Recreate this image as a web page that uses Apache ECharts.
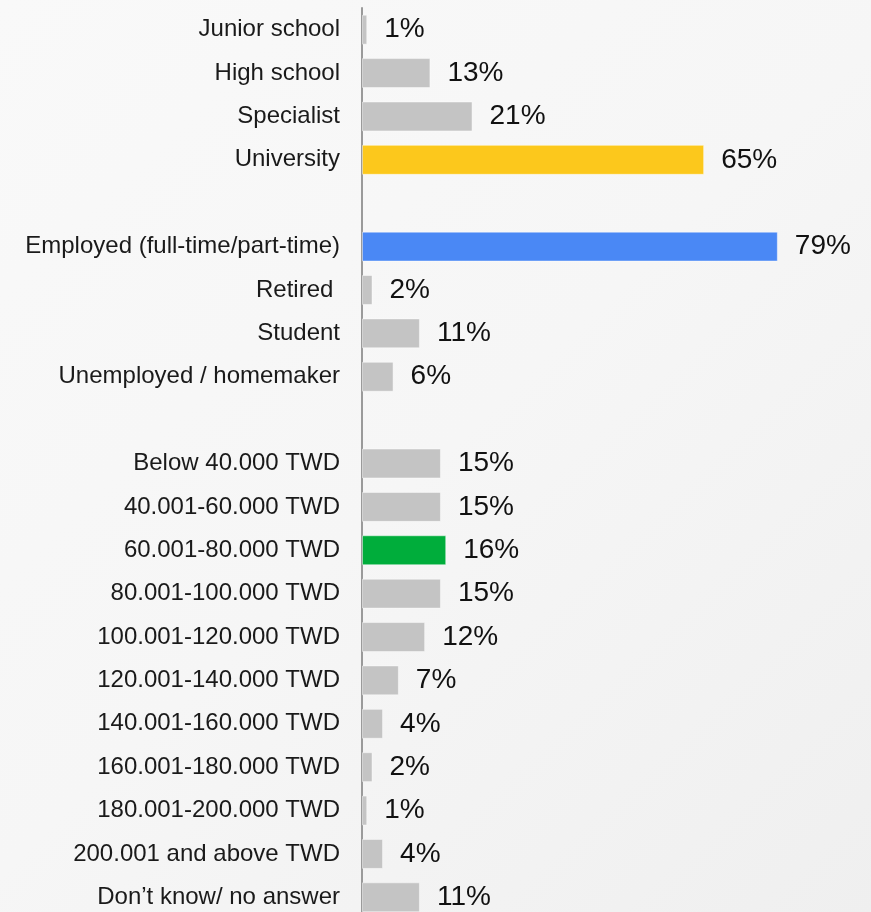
<!DOCTYPE html>
<html>
<head>
<meta charset="utf-8">
<script src="https://cdn.jsdelivr.net/npm/echarts@6/dist/echarts.min.js"></script>
<style>
    html, body { margin: 0; padding: 0; overflow: hidden; }
    #chart { width: 871px; height: 920px; }
</style>
</head>
<body>
<div id="chart"></div>
<script>
// rows from top to bottom, blank rows separate the groups
var categories = [
    'Junior school', 'High school', 'Specialist', 'University',
    ' ',
    'Employed (full-time/part-time)', 'Retired ', 'Student', 'Unemployed / homemaker',
    '  ',
    'Below 40.000 TWD', '40.001-60.000 TWD', '60.001-80.000 TWD', '80.001-100.000 TWD',
    '100.001-120.000 TWD', '120.001-140.000 TWD', '140.001-160.000 TWD', '160.001-180.000 TWD',
    '180.001-200.000 TWD', '200.001 and above TWD', 'Don\u2019t know/ no answer'
];
var values = [
    1, 13, 21, 65,
    null,
    79, 2, 11, 6,
    null,
    15, 15, 16, 15, 12, 7, 4, 2, 1, 4, 11
];

var grayColor = '#c4c4c4';
var highlight = {
    'University': '#fcc81c',
    'Employed (full-time/part-time)': '#4a88f5',
    '60.001-80.000 TWD': '#00ad3b'
};

initChart();

function initChart() {
    var dom = document.getElementById('chart');
    var myChart = echarts.init(dom);
    var seriesData = values.map(function(v, i) {
        if (v === null) return '-';
        return {
            value: v,
            itemStyle: {
                color: highlight[categories[i]] || grayColor
            }
        };
    });
    var option = {
        animation: false,
        backgroundColor: {
            type: 'linear',
            x: 0, y: 0, x2: 1, y2: 1,
            colorStops: [
                { offset: 0, color: '#f9f9f9' },
                { offset: 0.5, color: '#f6f6f6' },
                { offset: 1, color: '#efefef' }
            ]
        },
        grid: {
            left: 362,
            top: 8,
            right: 0,
            bottom: 1
        },
        xAxis: {
            type: 'value',
            min: 0,
            max: 96.7, // bar scale, axis hidden
            show: false
        },
        yAxis: {
            type: 'category',
            inverse: true,
            data: categories,
            axisTick: { show: false },
            axisLine: {
                show: true,
                lineStyle: { color: '#9a9a9a', width: 2 }
            },
            axisLabel: {
                margin: 22,
                color: '#1a1a1a',
                fontSize: 24,
                fontFamily: 'Liberation Sans, Arial, sans-serif'
            }
        },
        series: [{
            type: 'bar',
            barCategoryGap: '31%',
            data: seriesData,
            itemStyle: {
                borderColor: 'rgba(255,255,255,0.45)',
                borderWidth: 1
            },
            label: {
                show: true,
                position: 'right',
                distance: 17,
                formatter: '{c}%',
                color: '#111',
                fontSize: 28,
                fontFamily: 'Liberation Sans, Arial, sans-serif'
            }
        }]
    };
    if (option && typeof option === 'object') {
        myChart.setOption(option, true);
        window.onresize = myChart.resize;
    }
}
</script>
</body>
</html>
